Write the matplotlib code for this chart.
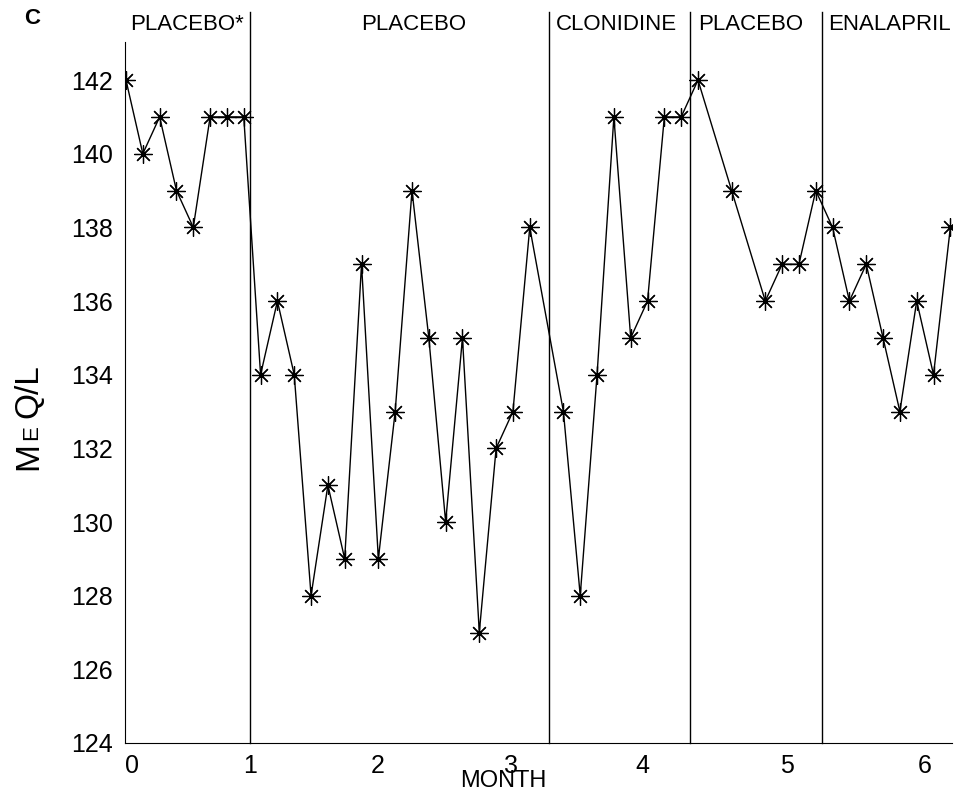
import matplotlib
matplotlib.use("Agg")
import matplotlib.pyplot as plt
from matplotlib.transforms import blended_transform_factory

plt.rcParams["font.family"] = ["Liberation Sans", "DejaVu Sans"]

# reading number (roughly twice a week), gaps are missed visits
reading = list(range(0, 25)) + list(range(26, 35)) + [36] + list(range(38, 50))
meq = [142, 140, 141, 139, 138, 141, 141, 141, 134, 136, 134, 128, 131, 129,
       137, 129, 133, 139, 135, 130, 135, 127, 132, 133, 138,
       133, 128, 134, 141, 135, 136, 141, 141, 142,
       139,
       136, 137, 137, 139, 138, 136, 137, 135, 133, 136, 134, 138]

month_pos = [0.36, 7.37, 14.98, 22.9, 30.7, 39.3, 47.5]
month_labels = ["0", "1", "2", "3", "4", "5", "6"]

phase_edges = [7.37, 25.15, 33.53, 41.38]
phase_names = ["PLACEBO*", "PLACEBO", "CLONIDINE", "PLACEBO", "ENALAPRIL"]
phase_centers = [3.63, 17.12, 29.13, 37.16, 45.36]

fig = plt.figure(figsize=(9.6, 7.91), dpi=100)
ax = fig.add_axes([0.1302, 0.0607, 0.8615, 0.886])

ax.plot(reading, meq, color="black", linewidth=1.0,
        marker=(8, 2, 0), markersize=13, markeredgewidth=0.9,
        markeredgecolor="black")

for xe in phase_edges:
    ax.plot([xe, xe], [124, 143.85], color="black", linewidth=1.0, clip_on=False)

trans = blended_transform_factory(ax.transData, fig.transFigure)
for xc, name in zip(phase_centers, phase_names):
    ax.text(xc, 1 - 25 / 791, name, transform=trans, ha="center", va="center",
            fontsize=16)

ax.set_xlim(-0.06, 49.1)
ax.set_ylim(124, 143.03)
ax.set_yticks(range(124, 143, 2))
ax.set_xticks(month_pos)
ax.set_xticklabels(month_labels)
ax.tick_params(axis="y", length=0, pad=8.6, labelsize=18)
ax.tick_params(axis="x", length=0, pad=8, labelsize=18)
for s in ["top", "right"]:
    ax.spines[s].set_visible(False)
for s in ["left", "bottom"]:
    ax.spines[s].set_linewidth(0.8)

fig.text(503 / 960, 1 - 781 / 791, "MONTH", ha="center", va="center", fontsize=17)

# y label with small-caps E
bx = 37 / 960
kw = dict(rotation=90, rotation_mode="anchor", ha="left", va="baseline")
fig.text(bx, 1 - 470 / 791, "M", fontsize=24, **kw)
fig.text(bx, 1 - 440 / 791, "E", fontsize=16, **kw)
fig.text(bx, 1 - 418 / 791, "Q/L", fontsize=24, **kw)

fig.text(32 / 960, 1 - 18 / 791, "C", fontsize=16, fontweight="bold",
         ha="center", va="center")

fig.savefig("out.png", dpi=100)
